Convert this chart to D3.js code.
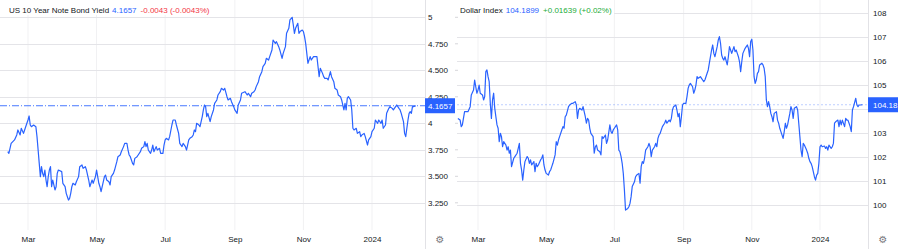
<!DOCTYPE html>
<html><head><meta charset="utf-8">
<script src="https://cdn.jsdelivr.net/npm/d3@7"></script>
<style>
html,body{margin:0;padding:0;background:#fff;}
svg{display:block;}
</style></head><body>
<svg id="c" width="900" height="249"></svg>
<script>
// ---------- DATA ----------
const yieldDates = [
"2023-02-11","2023-02-12","2023-02-14","2023-02-17","2023-02-19","2023-02-20","2023-02-22","2023-02-23","2023-02-25","2023-02-26","2023-02-28",
"2023-03-01","2023-03-02","2023-03-03","2023-03-04","2023-03-06","2023-03-08","2023-03-09","2023-03-10","2023-03-11","2023-03-12","2023-03-13","2023-03-14","2023-03-15","2023-03-16","2023-03-17","2023-03-18","2023-03-19","2023-03-20","2023-03-21","2023-03-22","2023-03-23","2023-03-24","2023-03-25","2023-03-26","2023-03-27","2023-03-28","2023-03-31",
"2023-04-01","2023-04-03","2023-04-04","2023-04-06","2023-04-07","2023-04-08","2023-04-09","2023-04-10","2023-04-12","2023-04-13","2023-04-15","2023-04-16","2023-04-18","2023-04-19","2023-04-21","2023-04-22","2023-04-24","2023-04-25","2023-04-27","2023-04-28","2023-04-30",
"2023-05-01","2023-05-02","2023-05-03","2023-05-04","2023-05-05","2023-05-06","2023-05-08","2023-05-09","2023-05-10","2023-05-12","2023-05-13","2023-05-14","2023-05-16","2023-05-17","2023-05-19","2023-05-20","2023-05-22","2023-05-23","2023-05-25","2023-05-26","2023-05-28","2023-05-29","2023-05-30","2023-05-31",
"2023-06-02","2023-06-03","2023-06-04","2023-06-06","2023-06-07","2023-06-09","2023-06-10","2023-06-12","2023-06-13","2023-06-14","2023-06-15","2023-06-16","2023-06-18","2023-06-19","2023-06-20","2023-06-21","2023-06-23","2023-06-24","2023-06-26","2023-06-27","2023-06-29","2023-06-30",
"2023-07-01","2023-07-02","2023-07-04","2023-07-05","2023-07-07","2023-07-08","2023-07-10","2023-07-11","2023-07-13","2023-07-14","2023-07-16","2023-07-17","2023-07-19","2023-07-20","2023-07-22","2023-07-23","2023-07-25","2023-07-26","2023-07-27","2023-07-28","2023-07-29","2023-07-31",
"2023-08-01","2023-08-03","2023-08-04","2023-08-05","2023-08-06","2023-08-07","2023-08-08","2023-08-10","2023-08-11","2023-08-13","2023-08-14","2023-08-16","2023-08-17","2023-08-19","2023-08-20","2023-08-22","2023-08-23","2023-08-25","2023-08-26","2023-08-28","2023-08-29","2023-08-31",
"2023-09-01","2023-09-03","2023-09-04","2023-09-06","2023-09-07","2023-09-10","2023-09-12","2023-09-13","2023-09-15","2023-09-16","2023-09-18","2023-09-19","2023-09-20","2023-09-22","2023-09-23","2023-09-25","2023-09-26","2023-09-28","2023-09-29",
"2023-10-01","2023-10-02","2023-10-04","2023-10-05","2023-10-07","2023-10-08","2023-10-10","2023-10-11","2023-10-13","2023-10-14","2023-10-16","2023-10-17","2023-10-19","2023-10-20","2023-10-22","2023-10-23","2023-10-24","2023-10-25","2023-10-27","2023-10-28","2023-10-29","2023-10-31",
"2023-11-01","2023-11-02","2023-11-03","2023-11-04","2023-11-05","2023-11-07","2023-11-08","2023-11-10","2023-11-13","2023-11-14","2023-11-15","2023-11-16","2023-11-18","2023-11-19","2023-11-20","2023-11-22","2023-11-23","2023-11-25","2023-11-26","2023-11-28","2023-11-29",
"2023-12-01","2023-12-02","2023-12-04","2023-12-05","2023-12-07","2023-12-08","2023-12-09","2023-12-10","2023-12-11","2023-12-13","2023-12-14","2023-12-15","2023-12-16","2023-12-18","2023-12-19","2023-12-21","2023-12-22","2023-12-23","2023-12-25","2023-12-26","2023-12-28","2023-12-29","2023-12-31",
"2024-01-01","2024-01-03","2024-01-04","2024-01-06","2024-01-07","2024-01-09","2024-01-10","2024-01-11","2024-01-13","2024-01-14","2024-01-16","2024-01-17","2024-01-19","2024-01-20","2024-01-22","2024-01-23","2024-01-25","2024-01-26","2024-01-27","2024-01-29","2024-01-30","2024-01-31",
"2024-02-02","2024-02-03","2024-02-04","2024-02-05","2024-02-06","2024-02-07","2024-02-09"
];
const yieldValues = [
3.732,3.717,3.811,3.843,3.890,3.937,3.890,3.953,3.905,3.937,4.000,
4.031,4.069,3.984,3.968,3.984,3.968,3.874,3.748,3.622,3.497,3.591,3.528,3.497,3.559,3.465,3.402,3.497,3.559,3.591,3.402,3.465,3.418,3.371,3.402,3.528,3.559,3.544,
3.434,3.402,3.339,3.276,3.292,3.339,3.402,3.434,3.418,3.449,3.497,3.591,3.607,3.575,3.591,3.559,3.465,3.402,3.465,3.434,3.497,
3.559,3.497,3.434,3.402,3.355,3.402,3.497,3.512,3.465,3.449,3.418,3.497,3.528,3.559,3.638,3.685,3.701,3.732,3.780,3.811,3.811,3.748,3.701,3.685,
3.622,3.607,3.669,3.685,3.701,3.732,3.764,3.780,3.827,3.780,3.811,3.748,3.717,3.748,3.795,3.732,3.780,3.748,3.764,3.717,3.717,3.795,
3.843,3.858,3.843,3.874,3.984,4.031,4.031,3.984,3.905,3.811,3.780,3.811,3.780,3.748,3.843,3.858,3.874,3.890,3.937,3.921,4.000,3.984,
3.968,4.063,4.126,4.173,4.157,4.063,4.094,4.016,4.063,4.126,4.188,4.220,4.267,4.298,4.330,4.314,4.330,4.251,4.220,4.236,4.204,4.157,
4.126,4.094,4.173,4.220,4.283,4.298,4.267,4.283,4.251,4.283,4.298,4.314,4.346,4.393,4.440,4.487,4.534,4.566,4.613,
4.597,4.629,4.692,4.786,4.754,4.770,4.723,4.692,4.613,4.660,4.723,4.849,4.896,4.975,5.000,4.927,4.849,4.896,4.943,4.849,4.865,4.880,
4.865,4.817,4.754,4.660,4.566,4.629,4.597,4.629,4.629,4.534,4.440,4.519,4.471,4.440,4.424,4.424,4.409,4.487,4.440,4.393,4.330,
4.314,4.267,4.251,4.220,4.126,4.188,4.126,4.236,4.251,4.220,4.126,3.953,3.937,3.953,3.905,3.921,3.874,3.890,3.905,3.874,3.795,3.843,3.874,
3.921,3.953,4.031,4.000,4.031,4.000,4.031,3.953,3.984,4.094,4.141,4.157,4.141,4.126,4.157,4.173,4.141,4.126,4.094,4.016,3.905,3.874,
4.031,4.094,4.110,4.094,4.157,4.157,4.1657
];

const dxyDates = [
"2023-02-11","2023-02-13","2023-02-14","2023-02-15","2023-02-17","2023-02-18","2023-02-20","2023-02-22","2023-02-23","2023-02-25","2023-02-26","2023-02-27","2023-02-28",
"2023-03-01","2023-03-02","2023-03-03","2023-03-05","2023-03-06","2023-03-07","2023-03-08","2023-03-09","2023-03-10","2023-03-11","2023-03-12","2023-03-13","2023-03-14","2023-03-15","2023-03-16","2023-03-17","2023-03-18","2023-03-19","2023-03-20","2023-03-21","2023-03-22","2023-03-23","2023-03-24","2023-03-26","2023-03-27","2023-03-28","2023-03-29","2023-03-30","2023-03-31",
"2023-04-02","2023-04-03","2023-04-05","2023-04-06","2023-04-07","2023-04-08","2023-04-09","2023-04-10","2023-04-11","2023-04-12","2023-04-14","2023-04-15","2023-04-16","2023-04-17","2023-04-18","2023-04-20","2023-04-21","2023-04-22","2023-04-23","2023-04-24","2023-04-26","2023-04-27","2023-04-28","2023-04-29","2023-04-30",
"2023-05-01","2023-05-03","2023-05-04","2023-05-05","2023-05-06","2023-05-07","2023-05-09","2023-05-10","2023-05-11","2023-05-12","2023-05-13","2023-05-15","2023-05-16","2023-05-17","2023-05-18","2023-05-19","2023-05-21","2023-05-22","2023-05-24","2023-05-25","2023-05-27","2023-05-28","2023-05-29","2023-05-30","2023-05-31",
"2023-06-02","2023-06-03","2023-06-05","2023-06-06","2023-06-07","2023-06-08","2023-06-09","2023-06-10","2023-06-12","2023-06-13","2023-06-14","2023-06-15","2023-06-16","2023-06-18","2023-06-19","2023-06-20","2023-06-21","2023-06-23","2023-06-24","2023-06-25","2023-06-27","2023-06-28","2023-06-29","2023-06-30",
"2023-07-01","2023-07-03","2023-07-04","2023-07-05","2023-07-06","2023-07-07","2023-07-08","2023-07-09","2023-07-10","2023-07-11","2023-07-13","2023-07-14","2023-07-15","2023-07-16","2023-07-17","2023-07-19","2023-07-20","2023-07-21","2023-07-23","2023-07-24","2023-07-25","2023-07-26","2023-07-27","2023-07-28","2023-07-29","2023-07-31",
"2023-08-01","2023-08-02","2023-08-03","2023-08-04","2023-08-06","2023-08-07","2023-08-08","2023-08-09","2023-08-10","2023-08-11","2023-08-13","2023-08-14","2023-08-15","2023-08-16","2023-08-17","2023-08-19","2023-08-20","2023-08-21","2023-08-22","2023-08-23","2023-08-25","2023-08-26","2023-08-27","2023-08-28","2023-08-29","2023-08-30","2023-08-31",
"2023-09-01","2023-09-03","2023-09-04","2023-09-05","2023-09-06","2023-09-07","2023-09-09","2023-09-10","2023-09-11","2023-09-12","2023-09-13","2023-09-14","2023-09-16","2023-09-17","2023-09-18","2023-09-19","2023-09-20","2023-09-22","2023-09-23","2023-09-24","2023-09-26","2023-09-27","2023-09-28","2023-09-29",
"2023-10-01","2023-10-02","2023-10-03","2023-10-04","2023-10-05","2023-10-06","2023-10-07","2023-10-08","2023-10-10","2023-10-11","2023-10-12","2023-10-13","2023-10-14","2023-10-16","2023-10-17","2023-10-18","2023-10-19","2023-10-20","2023-10-21","2023-10-22","2023-10-23","2023-10-24","2023-10-26","2023-10-27","2023-10-28","2023-10-29","2023-10-30","2023-10-31",
"2023-11-01","2023-11-02","2023-11-03","2023-11-04","2023-11-05","2023-11-06","2023-11-07","2023-11-08","2023-11-10","2023-11-11","2023-11-12","2023-11-13","2023-11-14","2023-11-15","2023-11-16","2023-11-17","2023-11-18","2023-11-19","2023-11-20","2023-11-21","2023-11-23","2023-11-24","2023-11-25","2023-11-26","2023-11-27","2023-11-29","2023-11-30",
"2023-12-01","2023-12-02","2023-12-03","2023-12-05","2023-12-06","2023-12-07","2023-12-08","2023-12-09","2023-12-11","2023-12-12","2023-12-13","2023-12-14","2023-12-15","2023-12-16","2023-12-17","2023-12-18","2023-12-20","2023-12-21","2023-12-22","2023-12-23","2023-12-24","2023-12-25","2023-12-27","2023-12-28","2023-12-29","2023-12-30","2023-12-31",
"2024-01-01","2024-01-02","2024-01-03","2024-01-05","2024-01-06","2024-01-07","2024-01-08","2024-01-09","2024-01-11","2024-01-12","2024-01-13","2024-01-14","2024-01-15","2024-01-17","2024-01-18","2024-01-19","2024-01-20","2024-01-21","2024-01-23","2024-01-24","2024-01-25","2024-01-26","2024-01-27","2024-01-28","2024-01-29","2024-01-30","2024-01-31",
"2024-02-02","2024-02-03","2024-02-04","2024-02-05","2024-02-06","2024-02-08"
];
const dxyValues = [
103.62,103.55,103.28,103.35,103.90,103.90,103.90,104.11,104.60,104.80,105.22,104.94,104.67,
104.80,105.01,104.67,104.60,104.39,104.53,105.57,105.64,105.36,105.15,104.25,103.62,104.39,104.67,104.04,103.69,103.35,103.21,102.65,103.00,102.86,102.44,102.65,102.51,102.30,102.44,102.17,102.30,101.61,
101.96,102.03,102.17,102.37,102.58,101.75,101.47,101.05,101.47,101.82,102.03,101.96,101.75,101.89,101.68,101.82,101.40,101.75,101.61,101.68,101.89,101.96,102.10,101.68,101.47,
101.33,101.26,101.40,101.47,101.61,101.75,102.10,102.65,102.51,102.72,102.86,103.14,103.28,103.21,103.69,103.76,104.11,104.18,104.25,104.25,104.32,104.18,103.62,103.97,104.04,
103.97,104.11,103.69,103.42,103.62,103.55,103.21,103.00,102.86,102.17,102.44,102.51,102.30,102.23,102.10,102.86,102.79,102.93,102.58,102.72,103.35,103.07,103.00,103.14,
103.21,103.35,103.14,102.30,102.23,102.03,101.75,101.33,100.64,99.80,99.87,99.94,100.08,100.36,100.78,100.98,101.19,101.26,101.33,100.92,101.61,101.82,101.75,101.96,102.30,102.44,
102.58,102.44,102.03,102.30,102.44,102.58,102.44,102.79,102.93,103.00,103.28,103.35,103.42,103.55,103.42,103.55,103.48,103.62,103.97,104.11,104.18,103.97,103.69,103.83,103.28,103.69,104.18,
104.25,104.25,104.53,104.87,105.01,105.08,104.94,104.67,104.80,105.01,105.36,105.29,105.36,105.29,105.22,105.15,105.22,105.50,105.64,105.92,106.47,106.68,106.33,106.19,
106.61,106.89,107.03,106.75,106.26,106.12,106.05,106.19,105.85,106.19,106.61,106.47,106.33,106.61,106.40,106.47,106.33,106.19,105.98,105.57,105.98,106.33,106.54,106.61,106.68,106.54,106.19,106.82,
106.92,106.47,105.36,105.08,105.22,105.50,105.57,105.85,105.92,105.85,105.71,105.36,104.39,104.11,104.32,104.11,103.83,103.69,103.48,103.83,103.90,103.55,103.42,103.21,103.07,102.79,103.07,
103.42,103.21,103.35,103.83,104.11,103.97,103.62,104.04,104.11,103.97,103.42,102.86,102.30,102.03,102.58,102.51,102.30,102.17,101.96,101.82,101.75,101.61,101.19,101.05,101.26,101.33,101.75,
102.44,102.51,102.44,102.47,102.37,102.44,102.30,102.51,102.37,102.44,102.58,103.42,103.48,103.55,103.28,103.55,103.35,103.55,103.28,103.62,103.55,103.55,103.42,103.28,103.07,103.97,104.11,
104.46,104.18,104.11,104.18,104.18,104.1899
];

// gridline levels and the labels shown on each price scale
const yieldTicks = [5, 4.75, 4.5, 4.25, 4, 3.75, 3.5, 3.25];
const yieldLabelTicks = [5, 4.75, 4.5, 4.25, 4, 3.75, 3.5, 3.25];
const yieldTickLabels = ["5", "4.750", "4.500", "4.250", "4", "3.750", "3.500", "3.250"];
const dxyTicks = [108, 107, 106, 105, 104, 103, 102, 101, 100];
const dxyLabelTicks = [108, 107, 106, 105, 103, 102, 101, 100];
const dxyTickLabels = ["108", "107", "106", "105", "103", "102", "101", "100"];
const monthTicks = ["2023-03-01", "2023-05-01", "2023-07-01", "2023-09-01", "2023-11-01", "2024-01-01"];
const monthLabels = ["Mar", "May", "Jul", "Sep", "Nov", "2024"];

const yieldTitle = ["US 10 Year Note Bond Yield", "4.1657", "-0.0043 (-0.0043%)"];
const dxyTitle = ["Dollar Index", "104.1899", "+0.01639 (+0.02%)"];
const yieldLast = { value: 4.1657, label: "4.1657" };
const dxyLast = { value: 104.1899, label: "104.18" };

// ---------- DRAW ----------
const FONT = '"Liberation Sans", Arial, Helvetica, sans-serif';
const parse = d3.timeParse("%Y-%m-%d");
const svg = d3.select("#c");
const BLUE = "#2962ff";

function panel(cfg) {
  const g = svg.append("g");
  const x = d3.scaleTime()
    .domain([parse(monthTicks[0]), parse(monthTicks[monthTicks.length - 1])])
    .range(cfg.xRange);
  const y = d3.scaleLinear().domain(cfg.yDomain).range(cfg.yRange);
  const plotBottom = 230;

  // vertical grid
  g.append("g").selectAll("line").data(monthTicks).join("line")
    .attr("x1", d => x(parse(d))).attr("x2", d => x(parse(d)))
    .attr("y1", 0).attr("y2", plotBottom)
    .attr("stroke", "#f1f1f3").attr("stroke-width", 1);

  // horizontal grid
  g.append("g").selectAll("line").data(cfg.ticks).join("line")
    .attr("x1", cfg.left).attr("x2", cfg.right)
    .attr("y1", d => Math.round(y(d)) + 0.5).attr("y2", d => Math.round(y(d)) + 0.5)
    .attr("stroke", "#e4e4e8").attr("stroke-width", 1);

  // last value line
  g.append("line")
    .attr("x1", cfg.left).attr("x2", cfg.right)
    .attr("y1", y(cfg.last.value)).attr("y2", y(cfg.last.value))
    .attr("stroke", BLUE).attr("stroke-width", 1)
    .attr("stroke-dasharray", cfg.lastDash).attr("opacity", cfg.lastOpacity);

  // series line
  const data = cfg.dates.map((d, i) => ({ d: parse(d), v: cfg.values[i] }));
  g.append("path").datum(data)
    .attr("d", d3.line().x(p => x(p.d)).y(p => y(p.v)))
    .attr("fill", "none").attr("stroke", BLUE).attr("stroke-width", 1.2)
    .attr("stroke-linejoin", "round");

  // title background + title
  g.append("rect").attr("x", cfg.left).attr("y", 0)
    .attr("width", cfg.titleBgW).attr("height", 15).attr("fill", "#fff");
  const t = g.append("text").attr("x", cfg.left + cfg.titleX).attr("y", 13)
    .attr("font-family", FONT).attr("font-size", 8);
  t.append("tspan").attr("fill", "#131722").text(cfg.title[0]);
  t.append("tspan").attr("dx", 3).attr("fill", BLUE).text(cfg.title[1]);
  t.append("tspan").attr("dx", 4).attr("fill", cfg.changeColor).text(cfg.title[2]);

  // axis separator
  g.append("line").attr("x1", cfg.right + 0.5).attr("x2", cfg.right + 0.5)
    .attr("y1", 0).attr("y2", 249).attr("stroke", "#e2e2e6");

  // y axis
  const ya = g.append("g").attr("transform", `translate(${cfg.right},0)`)
    .call(d3.axisRight(y).tickValues(cfg.labelTicks)
      .tickFormat((d, i) => cfg.tickLabels[i]).tickSize(0).tickPadding(cfg.labelPad));
  ya.select(".domain").remove();
  ya.selectAll("text").attr("font-family", FONT).attr("font-size", 8).attr("fill", "#131722");

  // x axis
  const xa = g.append("g").attr("transform", `translate(0,${plotBottom})`)
    .call(d3.axisBottom(x).tickValues(monthTicks.map(parse))
      .tickFormat((d, i) => monthLabels[i]).tickSize(0).tickPadding(6));
  xa.select(".domain").remove();
  xa.selectAll("text").attr("font-family", FONT).attr("font-size", 8).attr("fill", "#131722");

  // last value badge
  const by = y(cfg.last.value);
  g.append("rect").attr("x", cfg.right).attr("y", by - 7.5)
    .attr("width", 30).attr("height", 15).attr("fill", BLUE);
  g.append("text").attr("x", cfg.right + cfg.labelPad).attr("y", by + 3)
    .attr("font-family", FONT).attr("font-size", 8).attr("fill", "#fff")
    .text(cfg.last.label);

  // gear icon
  g.append("text").attr("x", cfg.right + 15).attr("y", 243)
    .attr("text-anchor", "middle").attr("font-family", "DejaVu Sans")
    .attr("font-size", 10).attr("fill", "#7a7a80").text("\u2699");

  return { x, y };
}

const L = panel({
  left: 0, right: 425, xRange: [28, 372], yDomain: [3.25, 5], yRange: [202.8, 17.3],
  ticks: yieldTicks, labelTicks: yieldLabelTicks, tickLabels: yieldTickLabels, labelPad: 3,
  dates: yieldDates, values: yieldValues, last: yieldLast,
  lastDash: "7,2,1,2", lastOpacity: 0.85,
  title: yieldTitle, titleX: 9, titleBgW: 215, changeColor: "#f23645"
});
// small ticks right of left price scale
svg.append("g").selectAll("line").data(yieldTicks).join("line")
  .attr("x1", 455).attr("x2", 458)
  .attr("y1", d => L.y(d)).attr("y2", d => L.y(d))
  .attr("stroke", "#d6d6da");

panel({
  left: 457, right: 868, xRange: [478, 820], yDomain: [100, 108], yRange: [205.3, 13.3],
  ticks: dxyTicks, labelTicks: dxyLabelTicks, tickLabels: dxyTickLabels, labelPad: 5,
  dates: dxyDates, values: dxyValues, last: dxyLast,
  lastDash: "2,2", lastOpacity: 0.3,
  title: dxyTitle, titleX: 3, titleBgW: 157, changeColor: "#22ab38"
});
</script>
</body></html>
